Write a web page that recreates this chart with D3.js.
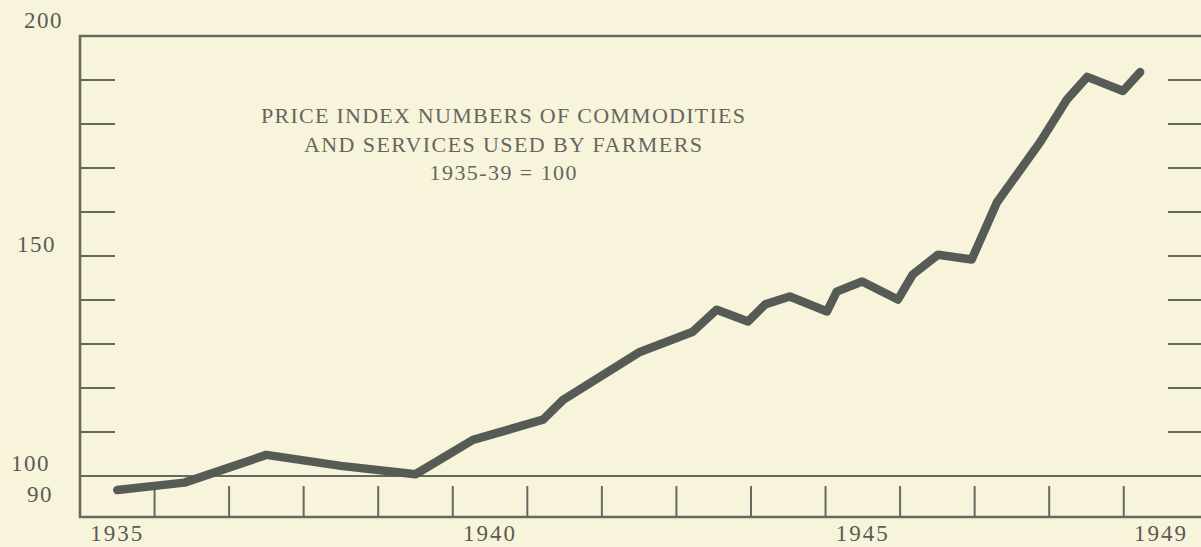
<!DOCTYPE html>
<html>
<head>
<meta charset="utf-8">
<script src="https://cdn.jsdelivr.net/npm/d3@7"></script>
<style>
  html, body { margin: 0; padding: 0; background: #f8f4db; }
  svg { display: block; }
</style>
</head>
<body>
<div id="chart"></div>
<script>
// annual averages 1935-39, later readings at the dates where the curve bends
const years  = [1935.5, 1936.4, 1937.5, 1938.5, 1939.5, 1940.27, 1941.21, 1941.48, 1942.51,
                1943.22, 1943.54, 1943.96, 1944.19, 1944.52, 1945.02, 1945.15, 1945.49,
                1945.97, 1946.17, 1946.51, 1946.96, 1947.30, 1947.88, 1948.24, 1948.51,
                1948.99, 1949.22];
const values = [96.8, 98.5, 104.8, 102.3, 100.4, 108.2, 112.8, 117.3, 128.2,
                132.8, 137.8, 135.1, 139.0, 140.8, 137.4, 141.9, 144.2,
                140.1, 145.8, 150.3, 149.2, 162.2, 175.9, 185.6, 190.7,
                187.5, 191.8];

const yearTicks   = d3.range(1936, 1950);
const yearLabels  = [1935, 1940, 1945, 1949];
const valueTicks  = [110, 120, 130, 140, 150, 160, 170, 180, 190];
const valueLabels = [200, 150, 100, 90];
const titleLines  = ["PRICE INDEX NUMBERS OF COMMODITIES",
                     "AND SERVICES USED BY FARMERS",
                     "1935-39 = 100"];

const W = 1201, H = 547;
const frame = {left: 80, top: 36, bottom: 517, right: 1210};
const ink = "#676961";

const svg = d3.select("#chart").append("svg")
  .attr("width", W).attr("height", H);

svg.append("rect").attr("width", W).attr("height", H).attr("fill", "#f8f4db");

var x = d3.scaleLinear().domain([1935, 1950]).range([frame.left, 1198.3]);
var y = d3.scaleLinear().domain([100, 200]).range([476, frame.top]);

// frame
svg.append("path")
  .attr("d", `M${frame.right},${frame.top}H${frame.left}V${frame.bottom}H${frame.right}`)
  .attr("fill", "none").attr("stroke", ink).attr("stroke-width", 2.6);

// 100 base line
svg.append("line")
  .attr("x1", frame.left).attr("x2", frame.right)
  .attr("y1", y(100)).attr("y2", y(100))
  .attr("stroke", ink).attr("stroke-width", 2);

// value ticks, left and right
const vt = svg.append("g").attr("stroke", ink).attr("stroke-width", 2);
vt.selectAll(".l").data(valueTicks).join("line")
  .attr("x1", frame.left).attr("x2", frame.left + 35)
  .attr("y1", d => y(d)).attr("y2", d => y(d));
vt.selectAll(".r").data(valueTicks).join("line")
  .attr("x1", 1168).attr("x2", frame.right)
  .attr("y1", d => y(d)).attr("y2", d => y(d));

// year ticks
svg.append("g").attr("stroke", ink).attr("stroke-width", 2)
  .selectAll("line").data(yearTicks).join("line")
  .attr("x1", d => x(d)).attr("x2", d => x(d))
  .attr("y1", frame.bottom).attr("y2", frame.bottom - 31);

const numFont = "'Liberation Serif', 'DejaVu Serif', serif";

// value labels (the print sets them a little above their lines)
const labelNudge = {200: [63, -8], 150: [56, -4], 100: [50, -5], 90: [53, -15]};
svg.append("g").attr("fill", "#5a5b54")
  .style("font-family", numFont).style("font-size", "23px").style("letter-spacing", "1.5px")
  .selectAll("text").data(valueLabels).join("text")
  .attr("text-anchor", "end")
  .attr("x", d => labelNudge[d][0])
  .attr("y", d => (d === 90 ? frame.bottom : y(d)) + labelNudge[d][1])
  .text(d => d);

// year labels, centred in their year
svg.append("g").attr("fill", "#5a5b54")
  .style("font-family", numFont).style("font-size", "23px").style("letter-spacing", "2px")
  .selectAll("text").data(yearLabels).join("text")
  .attr("text-anchor", "middle")
  .attr("x", d => x(d + 0.5))
  .attr("y", 541)
  .text(d => d);

// title
const titleWidths = [484, 398, 147];
svg.append("g").attr("fill", "#65665e")
  .style("font-family", numFont).style("font-size", "22px")
  .selectAll("text").data(titleLines).join("text")
  .attr("x", (d, i) => 503 - titleWidths[i] / 2)
  .attr("y", (d, i) => 123 + i * 28.5)
  .attr("textLength", (d, i) => titleWidths[i])
  .attr("lengthAdjust", "spacing")
  .text(d => d);

// the index line
const points = years.map((d, i) => [d, values[i]]);
svg.append("path")
  .datum(points)
  .attr("fill", "none")
  .attr("stroke", "#575b56")
  .attr("stroke-width", 8.5)
  .attr("stroke-linejoin", "round")
  .attr("stroke-linecap", "round")
  .attr("d", d3.line().x(d => x(d[0])).y(d => y(d[1])));
</script>
</body>
</html>
